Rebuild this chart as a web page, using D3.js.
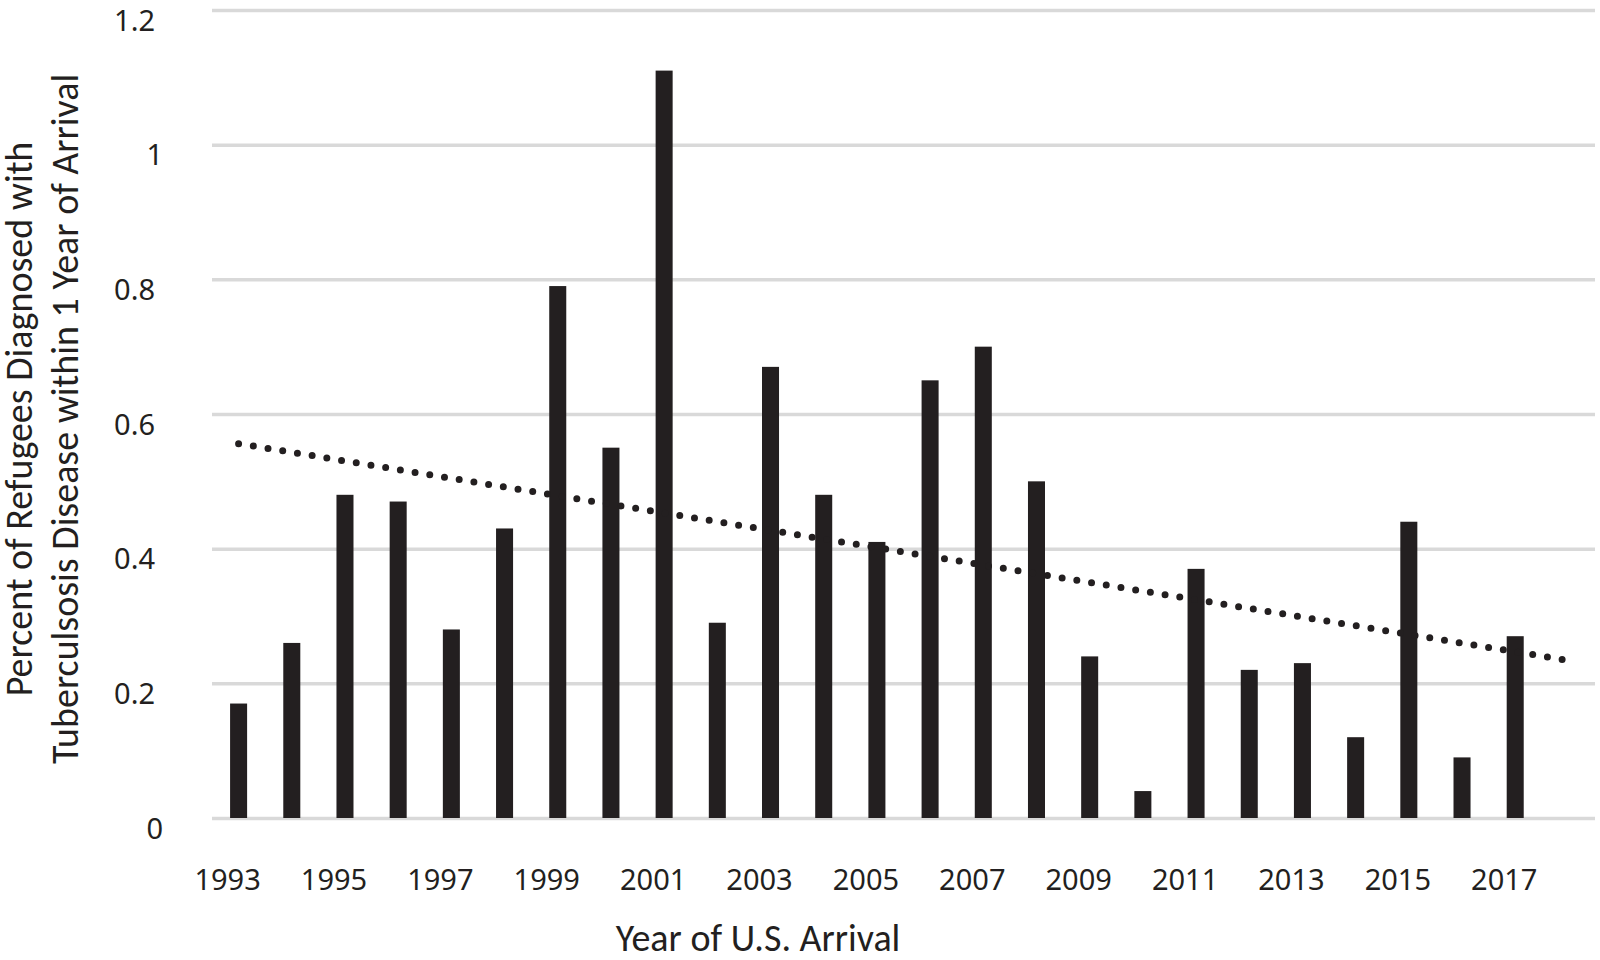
<!DOCTYPE html>
<html>
<head>
<meta charset="utf-8">
<script src="https://cdn.jsdelivr.net/npm/d3@7"></script>
<style>
  body { margin: 0; background: #fff; }
  text { font-family: Carlito, Lato, sans-serif; fill: #231f20; }
</style>
</head>
<body>
<div id="chart"></div>
<script>
// Categories (2018 is an empty slot the trendline runs into)
const years = ["1993", "1994", "1995", "1996", "1997", "1998", "1999", "2000", "2001",
    "2002", "2003", "2004", "2005", "2006", "2007", "2008", "2009", "2010", "2011",
    "2012", "2013", "2014", "2015", "2016", "2017", "2018"];

// Percent diagnosed within 1 year, 1993-2017
const rates = [0.17, 0.26, 0.48, 0.47, 0.28, 0.43, 0.79, 0.55, 1.11,
    0.29, 0.67, 0.48, 0.41, 0.65, 0.70, 0.50, 0.24, 0.04, 0.37,
    0.22, 0.23, 0.12, 0.44, 0.09, 0.27];

// Linear trendline end points
const trendYears = ["1993", "2018"];
const trendValues = [0.556, 0.234];

// Axis labels
const tickYears = ["1993", "1995", "1997", "1999", "2001", "2003", "2005",
    "2007", "2009", "2011", "2013", "2015", "2017"];
const yTicks = [0, 0.2, 0.4, 0.6, 0.8, 1, 1.2];

const width = 1600;
const height = 960;
const margin = {top: 10, right: 5, bottom: 142, left: 212};
const tickFont = "'Noto Sans', 'Open Sans', sans-serif";

const data = rates.map((v, i) => ({year: years[i], value: v}));

const x = d3.scaleBand()
    .domain(years)
    .range([margin.left, width - margin.right])
    .paddingInner(0.68)
    .paddingOuter(0.34);

const y = d3.scaleLinear()
    .domain([0, 1.2])
    .range([height - margin.bottom, margin.top]);

const svg = d3.select("#chart")
    .append("svg")
    .attr("width", width)
    .attr("height", height);

// Gridlines
svg.append("g")
    .attr("transform", `translate(${margin.left},0)`)
    .call(d3.axisLeft(y).tickValues(yTicks).tickSize(-(width - margin.left - margin.right)).tickFormat(""))
    .call(g => g.select(".domain").remove())
    .call(g => g.selectAll("line").attr("stroke", "#d9d9d9").attr("stroke-width", 3.5));

// Bars
svg.append("g")
    .selectAll("rect")
    .data(data)
    .join("rect")
    .attr("x", d => x(d.year))
    .attr("y", d => y(d.value))
    .attr("width", x.bandwidth())
    .attr("height", d => y(0) - y(d.value))
    .attr("fill", "#231f20");

// Dotted trendline
const line = d3.line()
    .x(d => x(d[0]) + x.bandwidth() / 2)
    .y(d => y(d[1]));

svg.append("path")
    .datum(trendYears.map((t, i) => [t, trendValues[i]]))
    .attr("fill", "none")
    .attr("stroke", "#231f20")
    .attr("stroke-width", 7)
    .attr("stroke-linecap", "round")
    .attr("stroke-dasharray", "0 14.9")
    .attr("d", line);

// Y-axis labels
svg.append("g")
    .attr("transform", `translate(163,11)`)
    .call(d3.axisLeft(y).tickValues(yTicks).tickSize(0).tickPadding(0).tickFormat(d3.format("")))
    .call(g => g.select(".domain").remove())
    .call(g => g.selectAll("text")
        .attr("x", d => Number.isInteger(d) ? 0 : -8)
        .style("font-size", "29px")
        .style("font-family", tickFont)
        .attr("fill", "#231f20"));

// X-axis labels
svg.append("g")
    .attr("transform", `translate(-11,${height - margin.bottom})`)
    .call(d3.axisBottom(x).tickValues(tickYears).tickSize(0).tickPadding(0))
    .call(g => g.select(".domain").remove())
    .call(g => g.selectAll("text")
        .attr("y", 72)
        .attr("dy", 0)
        .style("font-size", "29px")
        .style("font-family", tickFont)
        .attr("fill", "#231f20"));

// X-axis title
svg.append("text")
    .attr("x", 758)
    .attr("y", 951)
    .attr("text-anchor", "middle")
    .style("font-size", "38px")
    .text("Year of U.S. Arrival");

// Y-axis title (two lines)
const yTitle = svg.append("text")
    .attr("transform", "translate(0,419) rotate(-90)")
    .attr("text-anchor", "middle")
    .style("font-size", "38px");

yTitle.append("tspan")
    .attr("x", 0)
    .attr("y", 32)
    .text("Percent of Refugees Diagnosed with");

yTitle.append("tspan")
    .attr("x", 0)
    .attr("y", 78)
    .text("Tuberculsosis Disease within 1 Year of Arrival");
</script>
</body>
</html>
